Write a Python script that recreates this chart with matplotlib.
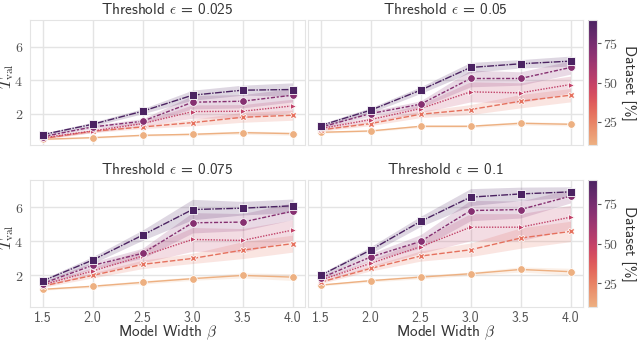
import numpy as np
import matplotlib
matplotlib.use("Agg")
import matplotlib.pyplot as plt
import seaborn as sns
from matplotlib.colors import Normalize
from matplotlib.cm import ScalarMappable
from matplotlib.ticker import FuncFormatter

# model widths and dataset fractions
widths = [1.5, 2.0, 2.5, 3.0, 3.5, 4.0]
datasets = [10, 30, 50, 70, 90]
thresholds = ["0.025", "0.05", "0.075", "0.1"]

# mean T_val per threshold, one list per dataset fraction (10 .. 90 %)
t_025 = [
    [0.46, 0.56, 0.70, 0.76, 0.86, 0.80],
    [0.50, 0.94, 1.20, 1.46, 1.78, 1.90],
    [0.55, 0.96, 1.40, 2.12, 2.14, 2.46],
    [0.62, 1.20, 1.54, 2.68, 2.74, 3.10],
    [0.74, 1.36, 2.14, 3.10, 3.40, 3.44],
]
t_05 = [
    [0.88, 0.96, 1.24, 1.24, 1.42, 1.36],
    [1.02, 1.40, 1.96, 2.24, 2.74, 3.10],
    [1.10, 1.64, 2.30, 3.30, 3.24, 3.74],
    [1.18, 2.00, 2.56, 4.10, 4.10, 4.76],
    [1.28, 2.20, 3.40, 4.76, 4.98, 5.14],
]
t_075 = [
    [1.16, 1.34, 1.57, 1.79, 1.98, 1.88],
    [1.35, 1.98, 2.63, 2.98, 3.47, 3.85],
    [1.42, 2.24, 3.12, 4.10, 4.04, 4.65],
    [1.50, 2.57, 3.28, 5.08, 5.12, 5.76],
    [1.65, 2.88, 4.35, 5.86, 5.94, 6.08],
]
t_1 = [
    [1.41, 1.67, 1.88, 2.08, 2.33, 2.20],
    [1.58, 2.39, 3.12, 3.49, 4.18, 4.57],
    [1.70, 2.69, 3.67, 4.82, 4.82, 5.41],
    [1.82, 3.06, 3.98, 5.80, 5.86, 6.65],
    [1.98, 3.47, 5.16, 6.59, 6.78, 6.90],
]

# half width of the confidence bands
ci_025 = [
    [0.03, 0.05, 0.05, 0.08, 0.10, 0.10],
    [0.05, 0.08, 0.10, 0.20, 0.30, 0.30],
    [0.05, 0.10, 0.15, 0.40, 0.40, 0.40],
    [0.05, 0.10, 0.15, 0.40, 0.40, 0.40],
    [0.08, 0.12, 0.15, 0.30, 0.30, 0.40],
]
ci_05 = [
    [0.05, 0.05, 0.08, 0.08, 0.10, 0.10],
    [0.08, 0.12, 0.20, 0.30, 0.40, 0.40],
    [0.10, 0.15, 0.25, 0.60, 0.60, 0.50],
    [0.10, 0.15, 0.20, 0.50, 0.40, 0.40],
    [0.10, 0.15, 0.20, 0.30, 0.25, 0.30],
]
ci_075 = [
    [0.05, 0.08, 0.10, 0.10, 0.15, 0.20],
    [0.08, 0.15, 0.25, 0.30, 0.50, 0.50],
    [0.10, 0.20, 0.40, 0.70, 0.70, 0.60],
    [0.10, 0.20, 0.30, 0.60, 0.50, 0.50],
    [0.10, 0.20, 0.30, 0.60, 0.40, 0.40],
]
ci_1 = [
    [0.05, 0.08, 0.10, 0.10, 0.15, 0.20],
    [0.08, 0.15, 0.30, 0.40, 0.60, 0.60],
    [0.10, 0.20, 0.40, 0.80, 0.80, 0.70],
    [0.10, 0.20, 0.40, 0.60, 0.50, 0.40],
    [0.10, 0.20, 0.30, 0.50, 0.40, 0.30],
]

means = [t_025, t_05, t_075, t_1]
cis = [ci_025, ci_05, ci_075, ci_1]

markers = ["o", "X", ">", "o", "s"]
marker_sizes = [5.5, 4.5, 5, 5.5, 6]
dashes = [(None, None), (4, 1.5), (1, 1), (3, 1.25, 1.5, 1.25), (5, 1, 1, 1)]

sns.set_style("whitegrid")
plt.rcParams["font.family"] = ["cmss10", "DejaVu Sans"]
plt.rcParams["mathtext.fontset"] = "cm"
plt.rcParams["axes.formatter.use_mathtext"] = True
plt.rcParams["axes.unicode_minus"] = False

cmap = sns.color_palette("flare", as_cmap=True)
norm = Normalize(vmin=10, vmax=90)

grid_col = "#e4e4e4"
text_col = "#333333"
tick_col = "#555555"

fig = plt.figure(figsize=(6.4, 3.44), dpi=100)
W, H = 640, 344


def px_axes(x0, y0, x1, y1):
    return fig.add_axes([x0 / W, 1 - y1 / H, (x1 - x0) / W, (y1 - y0) / H])


boxes = [(30, 20, 305, 145), (308, 20, 583, 145),
         (30, 180, 305, 307), (308, 180, 583, 307)]
axes = [px_axes(*b) for b in boxes]

for i, ax in enumerate(axes):
    for j, ds in enumerate(datasets):
        col = cmap(norm(ds))
        m = np.array(means[i][j])
        c = np.array(cis[i][j])
        ax.fill_between(widths, m - c, m + c, color=col, alpha=0.18, lw=0)
        line, = ax.plot(widths, m, color=col, lw=1.0, marker=markers[j],
                        ms=marker_sizes[j], mec="white", mew=0.6, zorder=3 + j)
        if dashes[j][0] is not None:
            line.set_dashes(dashes[j])

    ax.set_xlim(1.375, 4.125)
    ax.set_ylim(0.12, 7.6)
    ax.set_xticks(widths)
    ax.set_yticks([2, 4, 6])
    ax.grid(True, color=grid_col, lw=1)
    for s in ax.spines.values():
        s.set_color(grid_col)
    ax.tick_params(length=0, labelsize=10, colors=tick_col)
    ax.tick_params(axis="x", pad=3)
    ax.tick_params(axis="y", pad=5)
    ax.set_title(f"Threshold $\\epsilon$ = {thresholds[i]}", fontsize=11,
                 color=text_col, pad=4)
    if i < 2:
        ax.set_xticklabels([])
    else:
        ax.set_xticklabels([f"{w:.1f}" for w in widths])
        ax.set_xlabel("Model Width $\\beta$", fontsize=11, color=text_col, labelpad=-1)
    if i % 2 == 1:
        ax.set_yticklabels([])
    else:
        ax.yaxis.set_major_formatter(FuncFormatter(lambda v, p: f"${v:g}$"))
        ax.set_ylabel("$T_{\\mathrm{val}}$", fontsize=11.5, color=text_col)
        ax.yaxis.set_label_coords((15.5 - 30) / 275, 0.55)

# one colorbar per row
for y0, y1 in [(20, 145), (180, 307)]:
    cax = px_axes(588, y0, 597, y1)
    sm = ScalarMappable(norm=norm, cmap=cmap)
    cb = fig.colorbar(sm, cax=cax)
    cb.outline.set_edgecolor(grid_col)
    cb.set_ticks([25, 50, 75])
    cb.ax.yaxis.set_major_formatter(FuncFormatter(lambda v, p: f"${v:g}$"))
    cb.ax.tick_params(length=3, width=0.8, colors=tick_col, labelsize=10, pad=1)
    cb.set_label("Dataset [%]", rotation=270, fontsize=11, color=text_col, labelpad=13)

fig.savefig("out.png", dpi=100)
